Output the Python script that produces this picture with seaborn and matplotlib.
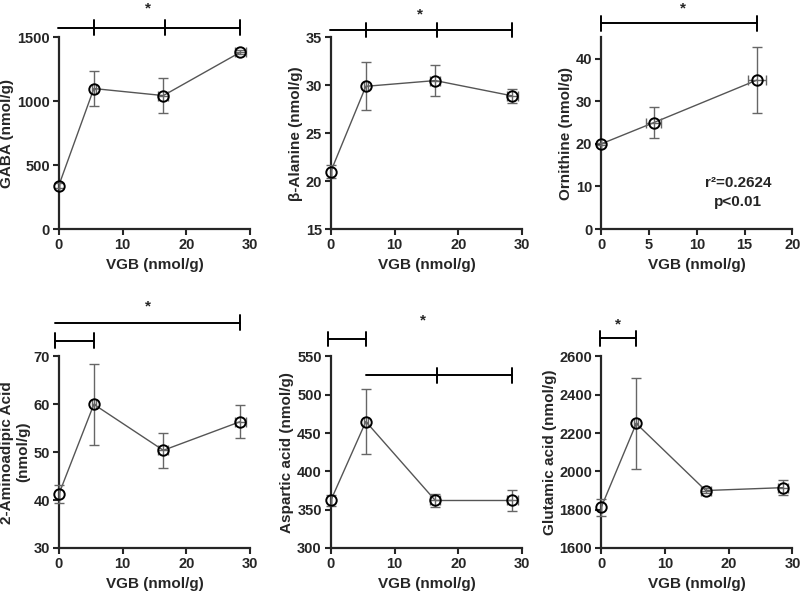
import pandas as pd
import seaborn as sns
import matplotlib.pyplot as plt
import matplotlib.transforms as mtransforms

# mean VGB dose groups (x) and their SEM
vgb = [0, 5.5, 16.4, 28.5]
vgb_err = [0, 0.3, 0.8, 0.8]
vgb_orn = [0, 5.5, 16.3]
vgb_orn_err = [0, 0.8, 0.9]

gaba = [340, 1100, 1045, 1385]
gaba_err = [20, 140, 135, 15]
balanine = [21.0, 29.9, 30.5, 28.9]
balanine_err = [0.7, 2.5, 1.6, 0.7]
ornithine = [20.0, 25.0, 35.0]
ornithine_err = [0.3, 3.7, 7.7]
aminoadipic = [41.2, 60.0, 50.4, 56.4]
aminoadipic_err = [1.9, 8.5, 3.7, 3.5]
aspartic = [362, 465, 362, 362]
aspartic_err = [7, 42, 8, 14]
glutamic = [1812, 2250, 1900, 1915]
glutamic_err = [45, 240, 15, 40]

sns.set_style("ticks")
plt.rcParams["font.family"] = ["Liberation Sans", "DejaVu Sans"]
plt.rcParams["font.weight"] = "bold"
plt.rcParams["axes.labelweight"] = "bold"
plt.rcParams["font.size"] = 10.5

fig = plt.figure(figsize=(8, 5.93), dpi=100)


def panel(rect, x, xerr, y, yerr, ylabel, xlim, xticks, ylim, yticks):
    ax = fig.add_axes(rect)
    df = pd.DataFrame({"x": x, "y": y})
    sns.lineplot(data=df, x="x", y="y", ax=ax, color="#555555", lw=1, errorbar=None)
    ax.errorbar(x, y, yerr=yerr, xerr=xerr, fmt="none", ecolor="#666666",
                elinewidth=1, capsize=3.5, capthick=1, clip_on=False, zorder=3)
    ax.plot(x, y, "o", ms=7.5, mfc="none", mec="black", mew=1.4,
            clip_on=False, zorder=4)
    ax.set_xlim(*xlim)
    ax.set_ylim(*ylim)
    ax.set_xticks(xticks)
    ax.set_yticks(yticks)
    ax.set_xlabel("VGB (nmol/g)", fontsize=11, labelpad=4)
    ax.set_ylabel(ylabel, fontsize=11, labelpad=2)
    for s in ["top", "right"]:
        ax.spines[s].set_visible(False)
    for s in ["left", "bottom"]:
        ax.spines[s].set_linewidth(1.6)
    ax.tick_params(width=1.5, length=4, labelsize=10.5, pad=2.5)
    for lab in ax.get_xticklabels() + ax.get_yticklabels():
        lab.set_fontweight("bold")
    return ax


def bracket(ax, xs, yfrac, ticks):
    tr = mtransforms.blended_transform_factory(ax.transData, ax.transAxes)
    ax.plot([xs[0], xs[-1]], [yfrac, yfrac], color="black", lw=1.4,
            transform=tr, clip_on=False)
    for xt in ticks:
        ax.plot([xt, xt], [yfrac - 0.037, yfrac + 0.037], color="black",
                lw=1.4, transform=tr, clip_on=False)


def star(ax, xpos, yfrac):
    tr = mtransforms.blended_transform_factory(ax.transData, ax.transAxes)
    ax.text(xpos, yfrac, "*", transform=tr, ha="center", va="center", fontsize=11)


top_y, bot_y = 0.6138, 0.0759
w, h = 0.239, 0.323
lefts = [0.0735, 0.4135, 0.7515]

ax1 = panel([lefts[0], top_y, w, h], vgb, vgb_err, gaba, gaba_err, "GABA (nmol/g)",
            (0, 30), [0, 10, 20, 30], (0, 1500), [0, 500, 1000, 1500])
bracket(ax1, [-0.2, vgb[3]], 1.052, [vgb[1], vgb[2] + 0.2, vgb[3]])
star(ax1, 14.0, 1.15)

ax2 = panel([lefts[1], top_y, w, h], vgb, vgb_err, balanine, balanine_err,
            "β-Alanine (nmol/g)", (0, 30), [0, 10, 20, 30], (15, 35), [15, 20, 25, 30, 35])
bracket(ax2, [-0.2, vgb[3]], 1.037, [vgb[1], vgb[2] + 0.2, vgb[3]])
star(ax2, 14.0, 1.12)

ax3 = panel([lefts[2], top_y, w, h], vgb_orn, vgb_orn_err, ornithine, ornithine_err,
            "Ornithine (nmol/g)", (0, 20), [0, 5, 10, 15, 20], (0, 45), [0, 10, 20, 30, 40])
bracket(ax3, [0, vgb_orn[2]], 1.073, [0, vgb_orn[2]])
star(ax3, 8.6, 1.15)
ax3.text(14.3, 10.7, "r²=0.2624", ha="center", va="center", fontsize=11, fontweight="bold")
ax3.text(14.3, 6.4, "p<0.01", ha="center", va="center", fontsize=11, fontweight="bold")

ax4 = panel([lefts[0], bot_y, w, h], vgb, vgb_err, aminoadipic, aminoadipic_err,
            "2-Aminoadipic Acid\n(nmol/g)", (0, 30), [0, 10, 20, 30], (30, 70), [30, 40, 50, 60, 70])
bracket(ax4, [-0.6, vgb[3]], 1.177, [vgb[3]])
bracket(ax4, [-0.6, vgb[1]], 1.083, [-0.6, vgb[1]])
star(ax4, 14.0, 1.26)

ax5 = panel([lefts[1], bot_y, w, h], vgb, vgb_err, aspartic, aspartic_err,
            "Aspartic acid (nmol/g)", (0, 30), [0, 10, 20, 30], (300, 550), [300, 350, 400, 450, 500, 550])
bracket(ax5, [-0.4, vgb[1]], 1.089, [-0.4, vgb[1]])
bracket(ax5, [vgb[1], vgb[3]], 0.901, [vgb[2] + 0.2, vgb[3]])
star(ax5, 14.4, 1.19)

ax6 = panel([lefts[2], bot_y, w, h], vgb, vgb_err, glutamic, glutamic_err,
            "Glutamic acid (nmol/g)", (0, 30), [0, 10, 20, 30], (1600, 2600),
            [1600, 1800, 2000, 2200, 2400, 2600])
bracket(ax6, [-0.2, vgb[1]], 1.094, [-0.2, vgb[1]])
star(ax6, 2.7, 1.165)

fig.savefig("out.png", dpi=100)
